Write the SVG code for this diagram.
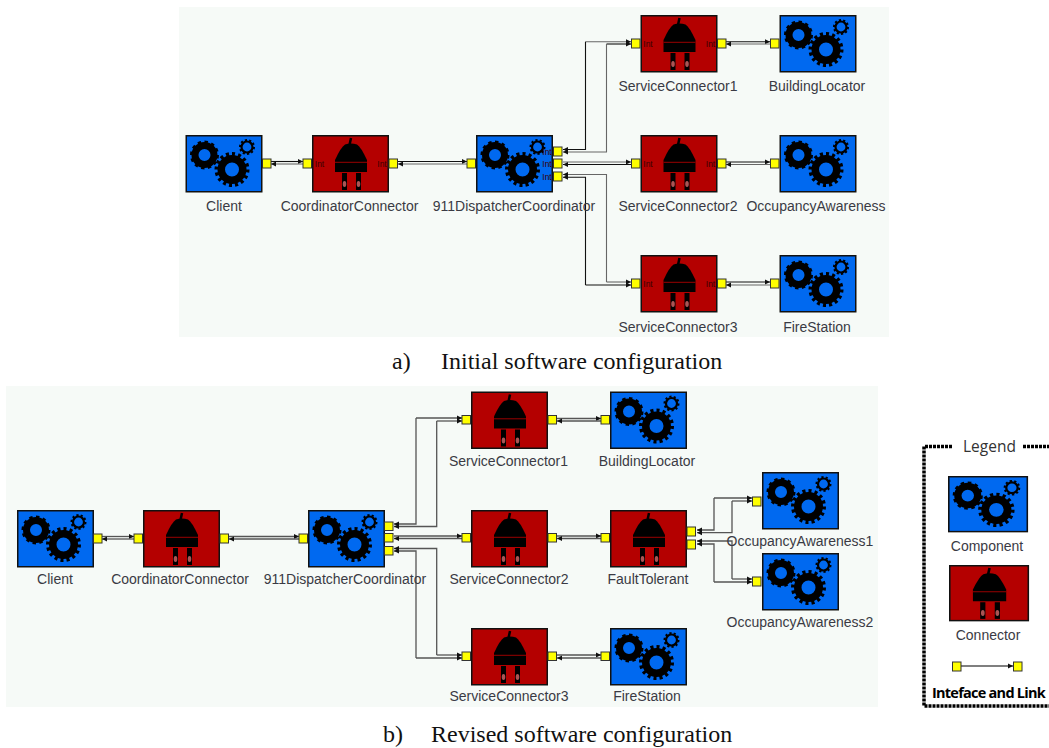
<svg xmlns="http://www.w3.org/2000/svg" xmlns:xlink="http://www.w3.org/1999/xlink" width="1049" height="748" viewBox="0 0 1049 748">
<style>
text{font-family:"Liberation Sans",Arial,sans-serif}
.l{font-size:14px;fill:#3a3a44;text-anchor:middle}
.i{font-size:8.5px;fill:#3a0000;text-anchor:middle}
.c{font-family:"Liberation Serif","Times New Roman",serif;font-size:24px;fill:#111}
.p{fill:#ffff00;stroke:#333;stroke-width:1}
.a{fill:none;stroke:#111;stroke-width:1.1;marker-end:url(#ah)}
.b{fill:none;stroke:#666;stroke-width:1.1;marker-end:url(#ah)}
.d{fill:none;stroke:#555;stroke-width:1.3;marker-end:url(#ah)}
.bg{fill:#f6faf7}
</style>
<defs>
<marker id="ah" markerWidth="6" markerHeight="6" refX="5" refY="3" orient="auto" markerUnits="userSpaceOnUse"><path d="M0 .5L5 3L0 5.500Z" fill="#111"/></marker>
<symbol id="comp" viewBox="0 0 77 58" width="77" height="58" overflow="visible">
<rect x=".75" y=".75" width="75.500" height="56" fill="#0069f0" stroke="#111" stroke-width="1.500"/>
<circle cx="19" cy="20" r="12.500" fill="none" stroke="#000" stroke-width="4" pathLength="24" stroke-dasharray="1 1"/>
<circle cx="19" cy="20" r="9.500" fill="none" stroke="#000" stroke-width="7"/>
<circle cx="46.500" cy="34.500" r="15.500" fill="none" stroke="#000" stroke-width="4" pathLength="32" stroke-dasharray="1 1"/>
<circle cx="46.500" cy="34.500" r="10.750" fill="none" stroke="#000" stroke-width="7.500"/>
<circle cx="61.500" cy="12" r="5.500" fill="none" stroke="#000" stroke-width="2.200"/>
<circle cx="61.500" cy="12" r="7" fill="none" stroke="#000" stroke-width="2" pathLength="20" stroke-dasharray="1 1"/>
</symbol>
<symbol id="conn" viewBox="0 0 77 58" width="77" height="58" overflow="visible">
<rect x=".75" y=".75" width="75.500" height="56" fill="#b40000" stroke="#111" stroke-width="1.500"/>
<path d="M33 9.500Q39 7.500 45 9.500Q49 12 55 25V37H23V25Q29 12 33 9.500Z" fill="#000"/>
<path d="M37.500 10L39 3" stroke="#000" stroke-width="2.500" fill="none"/>
<path d="M23 27.300H55" stroke="#900" stroke-width="1"/>
<rect x="30" y="38" width="5" height="17" fill="#000"/>
<rect x="44" y="38" width="5" height="17" fill="#000"/>
<ellipse cx="32.500" cy="49" rx="1.800" ry="3" fill="#a55"/>
<ellipse cx="46.500" cy="49" rx="1.800" ry="3" fill="#a55"/>
</symbol>
</defs>
<rect width="1049" height="748" fill="#fff"/>
<rect class="bg" x="179" y="7" width="710" height="330"/>
<rect class="bg" x="6" y="386" width="872" height="321"/>
<g id="connectors">
<path class="a" d="M271 161.500H303"/><path class="b" d="M303 164H271"/>
<path class="a" d="M398 161.500H467"/><path class="b" d="M467 164H398"/>
<path class="b" d="M585.500 41.700H631"/><path class="a" d="M585.500 41.700V149.500H563"/>
<path class="a" d="M606.500 44H631"/><path class="b" d="M606.500 44V152H563"/>
<path class="b" d="M563 162H631"/><path class="a" d="M631 164.500H563"/>
<path class="a" d="M726 41.700H770"/><path class="b" d="M770 44H726"/>
<path class="a" d="M726 162H770"/><path class="b" d="M770 164.500H726"/>
<path class="b" d="M606.500 282H631"/><path class="b" d="M606.500 282V174.500H563"/>
<path class="a" d="M585.500 285H631"/><path class="a" d="M585.500 285V177.300H563"/>
<path class="a" d="M726 282H770"/><path class="b" d="M770 285H726"/>
<path class="d" d="M102 536.500H134"/><path class="d" d="M134 539H102"/>
<path class="d" d="M229 536.500H299"/><path class="d" d="M299 539H229"/>
<path class="d" d="M416 418H462"/><path class="d" d="M416 418V524H394"/>
<path class="d" d="M436.700 421H462"/><path class="d" d="M436.700 421V526.500H394"/>
<path class="d" d="M394 536H462"/><path class="d" d="M462 538.500H394"/>
<path class="d" d="M436.700 655H462"/><path class="d" d="M436.700 655V548.500H394"/>
<path class="d" d="M416 658H462"/><path class="d" d="M416 658V551H394"/>
<path class="d" d="M557 418.500H601"/><path class="d" d="M601 421H557"/>
<path class="d" d="M557 536H601"/><path class="d" d="M601 538.500H557"/>
<path class="d" d="M557 655H601"/><path class="d" d="M601 658H557"/>
<path class="d" d="M714 498H752"/><path class="d" d="M714 498V530H697"/>
<path class="d" d="M732 501H752"/><path class="d" d="M732 501V532.700H697"/>
<path class="d" d="M732 579H752"/><path class="d" d="M732 579V541H697"/>
<path class="d" d="M714 582H752"/><path class="d" d="M714 582V544H697"/>
<path class="d" d="M961 666H1013"/>
</g>
<g id="top-client"><use xlink:href="#comp" href="#comp" x="185.500" y="135"/><rect class="p" x="262.500" y="159" width="8.500" height="9"/><text class="l" x="224" y="211">Client</text></g>
<g id="top-coordinator-connector"><use xlink:href="#conn" href="#conn" x="312" y="135"/><rect class="p" x="303" y="159" width="8.500" height="9"/><rect class="p" x="389" y="159" width="8.500" height="9"/><text class="i" x="319.500" y="167">Int</text><text class="i" x="382" y="167">Int</text><text class="l" x="349.500" y="211">CoordinatorConnector</text></g>
<g id="top-dispatcher"><use xlink:href="#comp" href="#comp" x="476" y="135"/><rect class="p" x="467" y="159" width="8.500" height="9"/><rect class="p" x="553.500" y="147" width="8.500" height="9"/><rect class="p" x="553.500" y="159" width="8.500" height="9"/><rect class="p" x="553.500" y="172" width="8.500" height="9"/><text class="i" x="547" y="155">Int</text><text class="i" x="547" y="167">Int</text><text class="i" x="547" y="180">Int</text><text class="l" x="514" y="211">911DispatcherCoordinator</text></g>
<g id="top-sc1"><use xlink:href="#conn" href="#conn" x="640.500" y="15"/><rect class="p" x="631.500" y="39" width="8.500" height="9"/><rect class="p" x="717.500" y="39" width="8.500" height="9"/><text class="i" x="648" y="47">Int</text><text class="i" x="710.500" y="47">Int</text><text class="l" x="678" y="91">ServiceConnector1</text></g>
<g id="top-building"><use xlink:href="#comp" href="#comp" x="779.500" y="15"/><rect class="p" x="770.500" y="39" width="8.500" height="9"/><text class="l" x="817" y="91">BuildingLocator</text></g>
<g id="top-sc2"><use xlink:href="#conn" href="#conn" x="640.500" y="135"/><rect class="p" x="631.500" y="159" width="8.500" height="9"/><rect class="p" x="717.500" y="159" width="8.500" height="9"/><text class="i" x="648" y="167">Int</text><text class="i" x="710.500" y="167">Int</text><text class="l" x="678" y="211">ServiceConnector2</text></g>
<g id="top-occupancy"><use xlink:href="#comp" href="#comp" x="779.500" y="135"/><rect class="p" x="770.500" y="159" width="8.500" height="9"/><text class="l" x="816" y="211">OccupancyAwareness</text></g>
<g id="top-sc3"><use xlink:href="#conn" href="#conn" x="640.500" y="255"/><rect class="p" x="631.500" y="279" width="8.500" height="9"/><rect class="p" x="717.500" y="279" width="8.500" height="9"/><text class="i" x="648" y="287">Int</text><text class="i" x="710.500" y="287">Int</text><text class="l" x="678" y="332">ServiceConnector3</text></g>
<g id="top-fire"><use xlink:href="#comp" href="#comp" x="779.500" y="255"/><rect class="p" x="770.500" y="279" width="8.500" height="9"/><text class="l" x="817" y="332">FireStation</text></g>
<text class="c" x="392" y="369">a)</text><text class="c" x="441" y="369">Initial software configuration</text>
<g id="bot-client"><use xlink:href="#comp" href="#comp" x="17" y="510"/><rect class="p" x="93.500" y="534" width="8.500" height="9"/><text class="l" x="55" y="584">Client</text></g>
<g id="bot-coordinator-connector"><use xlink:href="#conn" href="#conn" x="143" y="510"/><rect class="p" x="134" y="534" width="8.500" height="9"/><rect class="p" x="220" y="534" width="8.500" height="9"/><text class="l" x="180" y="584">CoordinatorConnector</text></g>
<g id="bot-dispatcher"><use xlink:href="#comp" href="#comp" x="308" y="510"/><rect class="p" x="299" y="534" width="8.500" height="9"/><rect class="p" x="384.500" y="522" width="8.500" height="8.500"/><rect class="p" x="384.500" y="533.500" width="8.500" height="8.500"/><rect class="p" x="384.500" y="546.500" width="8.500" height="8.500"/><text class="l" x="345" y="584">911DispatcherCoordinator</text></g>
<g id="bot-sc1"><use xlink:href="#conn" href="#conn" x="471" y="391.500"/><rect class="p" x="462" y="415.500" width="8.500" height="8.500"/><rect class="p" x="548" y="415.500" width="8.500" height="8.500"/><text class="l" x="508.500" y="466">ServiceConnector1</text></g>
<g id="bot-building"><use xlink:href="#comp" href="#comp" x="610" y="391.500"/><rect class="p" x="601" y="415.500" width="8.500" height="8.500"/><text class="l" x="647" y="466">BuildingLocator</text></g>
<g id="bot-sc2"><use xlink:href="#conn" href="#conn" x="471" y="510"/><rect class="p" x="462" y="533.500" width="8.500" height="8.500"/><rect class="p" x="548" y="533.500" width="8.500" height="8.500"/><text class="l" x="509" y="584">ServiceConnector2</text></g>
<g id="bot-fault"><use xlink:href="#conn" href="#conn" x="610" y="510"/><rect class="p" x="601" y="533.500" width="8.500" height="8.500"/><rect class="p" x="687" y="527" width="8.500" height="9"/><rect class="p" x="687" y="540" width="8.500" height="9"/><text class="l" x="648" y="584">FaultTolerant</text></g>
<g id="bot-oa1"><use xlink:href="#comp" href="#comp" x="762" y="472"/><rect class="p" x="752.500" y="497" width="8.500" height="9"/><text class="l" x="800" y="546">OccupancyAwareness1</text></g>
<g id="bot-oa2"><use xlink:href="#comp" href="#comp" x="762" y="553"/><rect class="p" x="752.500" y="577" width="8.500" height="9"/><text class="l" x="800" y="627">OccupancyAwareness2</text></g>
<g id="bot-sc3"><use xlink:href="#conn" href="#conn" x="471" y="628"/><rect class="p" x="462" y="652" width="8.500" height="8.500"/><rect class="p" x="548" y="652" width="8.500" height="8.500"/><text class="l" x="509" y="701">ServiceConnector3</text></g>
<g id="bot-fire"><use xlink:href="#comp" href="#comp" x="610" y="628"/><rect class="p" x="601" y="652" width="8.500" height="8.500"/><text class="l" x="647" y="701">FireStation</text></g>
<text class="c" x="383" y="742">b)</text><text class="c" x="431" y="742">Revised software configuration</text>
<g id="legend">
<path d="M952 446.500H924V706H1049M1023 446.500H1049" fill="none" stroke="#000" stroke-width="3.500" stroke-dasharray="3 1"/>
<text x="963" y="452" font-size="15.500" fill="#333" style="font-family:'Open Sans','Liberation Sans',sans-serif">Legend</text>
<g id="legend-component"><use xlink:href="#comp" href="#comp" transform="translate(948 476) scale(1.04 .98)"/><text class="l" x="987" y="551">Component</text></g>
<g id="legend-connector"><use xlink:href="#conn" href="#conn" transform="translate(949 565) scale(1.04 .98)"/><text class="l" x="988" y="640">Connector</text></g>
<g id="legend-link"><rect class="p" x="952.500" y="662" width="8.500" height="9"/><rect class="p" x="1013.500" y="662" width="8.500" height="9"/></g>
<text x="932" y="698" font-size="14.500" font-weight="bold" fill="#000" style="font-family:'Open Sans','Liberation Sans',sans-serif;letter-spacing:-.75px">Inteface and Link</text>
</g>
</svg>
